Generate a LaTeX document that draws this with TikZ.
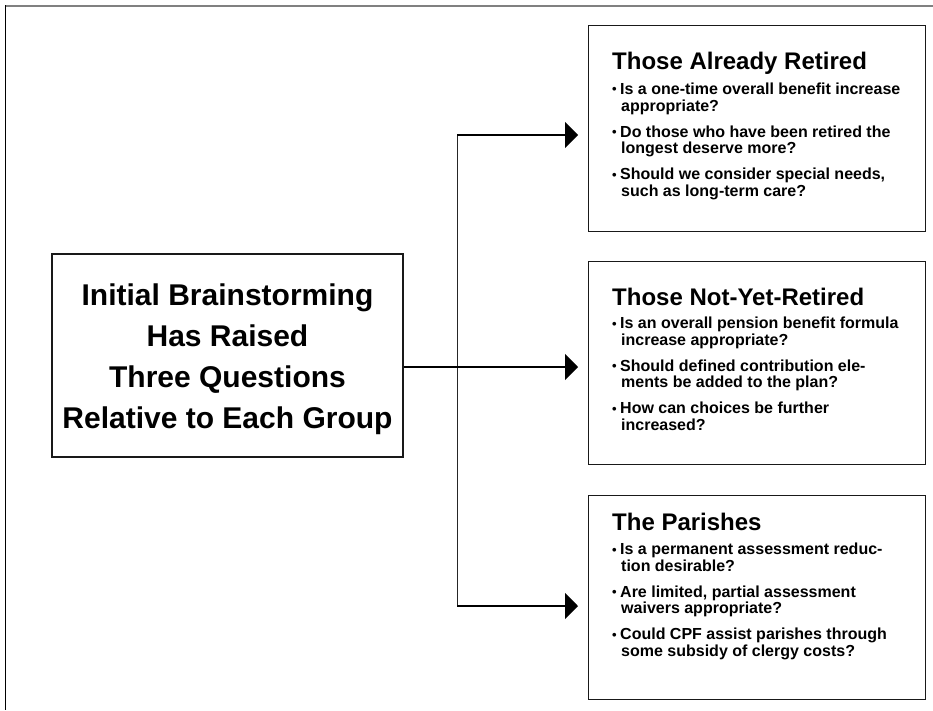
\documentclass[tikz,border=0pt]{standalone}
\usepackage{fontspec}
\setmainfont{Liberation Sans}
\usetikzlibrary{arrows.meta}
\newcommand\bul{\makebox[8pt][l]{\raisebox{0.8pt}{\fontsize{13}{13}\selectfont\textbullet}}}
\newcommand\cnt{\hspace*{9pt}}
\begin{document}
\begin{tikzpicture}[x=1pt,y=-1pt,
  grp/.style={draw=black!90, line width=1.4pt, minimum width=337pt, minimum height=#1, inner sep=0pt, anchor=north west},
  mainbox/.style={draw=black!90, line width=1.4pt, minimum width=351pt, minimum height=203pt, inner sep=0pt},
  maintext/.style={inner sep=0pt, align=center, font=\fontsize{30}{41}\selectfont\bfseries},
  ttl/.style={anchor=base west, inner sep=0pt, font=\fontsize{24}{28}\selectfont\bfseries},
  blt/.style={anchor=north west, inner sep=0pt, align=left, font=\fontsize{16}{16.5}\selectfont\bfseries},
  conn/.style={draw=black, line width=1.3pt},
  tip/.style={-{Triangle[length=13pt,width=26pt]}, shorten >=10pt}]
\useasboundingbox (0,0) rectangle (933,710);
% frame
\draw[draw=black!50, line width=2pt] (5,5.8) -- (933,5.8);
\draw[draw=black, line width=1.3pt] (5.6,5) -- (5.6,710);
% boxes
\node[grp=206pt] (b1) at (588,25) {};
\node[grp=203pt] (b2) at (588,261) {};
\node[grp=204pt] (b3) at (588,495) {};
\node[mainbox] (main) at (227.5,355.5) {};
\node[maintext] (maintxt) at (227.5,359) {Initial Brainstorming\\Has Raised\\Three Questions\\Relative to Each Group};
% titles
\node[ttl] (t1) at (612,69) {Those Already Retired};
\node[ttl] (t2) at (612,305) {Those Not-Yet-Retired};
\node[ttl] (t3) at (612,530) {The Parishes};
% bullets
\node[blt] (l1) at (612,83) {\bul Is a one-time overall benefit increase\\
\cnt appropriate?\\[9.5pt]
\bul Do those who have been retired the\\
\cnt longest deserve more?\\[9.5pt]
\bul Should we consider special needs,\\
\cnt such as long-term care?};
\node[blt] (l2) at (612,317) {\bul Is an overall pension benefit formula\\
\cnt increase appropriate?\\[9.5pt]
\bul Should defined contribution ele-\\
\cnt ments be added to the plan?\\[9.5pt]
\bul How can choices be further\\
\cnt increased?};
\node[blt] (l3) at (612,543) {\bul Is a permanent assessment reduc-\\
\cnt tion desirable?\\[9.5pt]
\bul Are limited, partial assessment\\
\cnt waivers appropriate?\\[9.5pt]
\bul Could CPF assist parishes through\\
\cnt some subsidy of clergy costs?};
% connectors
\coordinate (j) at (457,367);
\coordinate (ja) at (457,135);
\coordinate (jc) at (457,606);
\draw[draw=black!85, line width=1pt] (ja) -- (jc);
\draw[conn,tip] (main.east |- j) -- (b2.west |- j);
\draw[conn,tip] (ja) -- (b1.west |- ja);
\draw[conn,tip] (jc) -- (b3.west |- jc);
\end{tikzpicture}
\end{document}
